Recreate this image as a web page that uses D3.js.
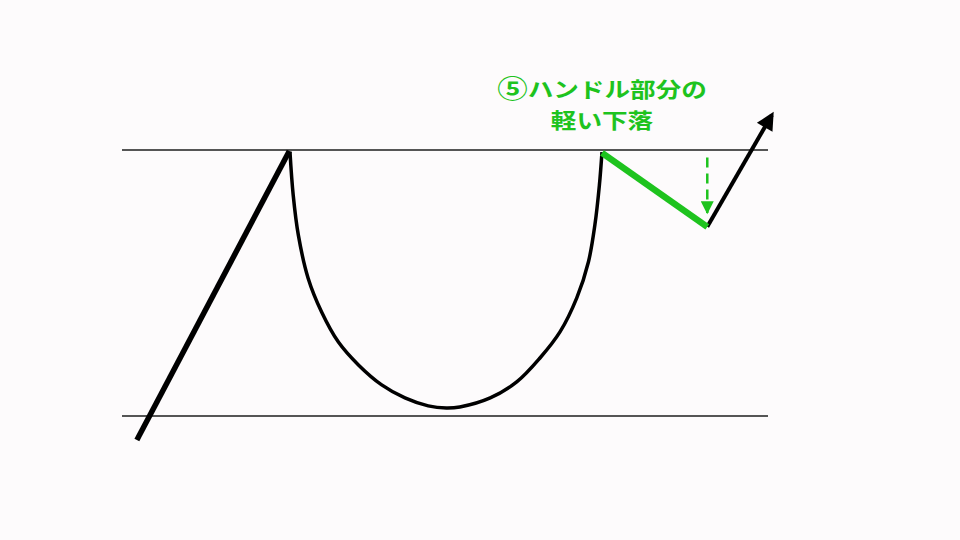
<!DOCTYPE html>
<html>
<head>
<meta charset="utf-8">
<script src="https://cdn.jsdelivr.net/npm/d3@7"></script>
<style>
  html, body { margin: 0; padding: 0; background: #fdfbfc; }
  svg { display: block; }
</style>
</head>
<body>
<div id="chart"></div>
<script>
(function () {
  "use strict";

  // Pattern values in chart units: x 0..100 across the band, y 0 = support, 100 = resistance
  const levels = [100, 0];
  const riseLine = [[2.3, -9.0], [25.9, 99.6]];
  const cupPoints = [
    [26.0, 99.4], [26.5, 83.1], [27.3, 68.0], [28.8, 51.9], [30.9, 39.1],
    [33.5, 27.8], [36.6, 19.2], [40.2, 11.7], [43.8, 6.8], [47.4, 3.8],
    [50.2, 3.0], [52.3, 3.4], [57.0, 6.8], [61.1, 12.8], [64.7, 21.8],
    [67.8, 31.6], [70.4, 44.4], [72.2, 57.9], [73.2, 71.8], [73.9, 86.8],
    [74.3, 99.2]
  ];
  const handleLine = [[74.3, 98.9], [90.6, 71.1]];
  const breakoutLine = [[90.6, 71.1], [100.6, 113.2]];
  const dropArrow = [[90.6, 97.2], [90.6, 76.3]];
  const labelMarker = "⑤";
  const labelLines = ["ハンドル部分の", "軽い下落"];

  const w = 960, h = 540;
  const GREEN = "#1ec31e";

  const x = d3.scaleLinear().domain([0, 100]).range([122, 768]);
  const y = d3.scaleLinear().domain([0, 100]).range([416, 150]);

  const svg = d3.select("#chart").append("svg")
    .attr("width", w).attr("height", h)
    .attr("viewBox", `0 0 ${w} ${h}`);

  svg.append("rect").attr("width", w).attr("height", h).attr("fill", "#fdfbfc");

  const defs = svg.append("defs");
  defs.append("marker")
    .attr("id", "head-black")
    .attr("viewBox", "0 0 10 10")
    .attr("refX", 8).attr("refY", 5)
    .attr("markerUnits", "userSpaceOnUse")
    .attr("markerWidth", 20).attr("markerHeight", 18)
    .attr("orient", "auto")
    .append("path").attr("d", "M0,0 L10,5 L0,10 Z").attr("fill", "#000");
  defs.append("marker")
    .attr("id", "head-green")
    .attr("viewBox", "0 0 10 10")
    .attr("refX", 9).attr("refY", 5)
    .attr("markerUnits", "userSpaceOnUse")
    .attr("markerWidth", 16).attr("markerHeight", 13)
    .attr("orient", "auto")
    .append("path").attr("d", "M0,0 L10,5 L0,10 Z").attr("fill", GREEN);

  const line = d3.line().x((d) => x(d[0])).y((d) => y(d[1]));

  // Resistance / support lines
  svg.selectAll("line.level")
    .data(levels)
    .enter().append("line")
    .attr("class", "level")
    .attr("x1", x(0)).attr("x2", x(100))
    .attr("y1", (d) => y(d)).attr("y2", (d) => y(d))
    .attr("stroke", "#555").attr("stroke-width", 2);

  // Prior uptrend
  svg.append("path").attr("d", line(riseLine))
    .attr("fill", "none").attr("stroke", "#000").attr("stroke-width", 5.5);

  // Cup
  const curved = d3.line().x((d) => x(d[0])).y((d) => y(d[1])).curve(d3.curveCatmullRom);
  svg.append("path").attr("d", curved(cupPoints))
    .attr("fill", "none").attr("stroke", "#000").attr("stroke-width", 3.5);

  // Breakout arrow
  svg.append("path").attr("d", line(breakoutLine))
    .attr("fill", "none").attr("stroke", "#000").attr("stroke-width", 4)
    .attr("marker-end", "url(#head-black)");

  // Handle
  svg.append("path").attr("d", line(handleLine))
    .attr("fill", "none").attr("stroke", GREEN).attr("stroke-width", 6.5)
    .attr("stroke-linecap", "butt");

  // Dashed drop arrow
  svg.append("path").attr("d", line(dropArrow))
    .attr("fill", "none").attr("stroke", GREEN).attr("stroke-width", 2.5)
    .attr("stroke-dasharray", "10,6")
    .attr("marker-end", "url(#head-green)");

  // Label (glyphs are stretched horizontally in the original)
  const label = svg.append("g")
    .attr("transform", "translate(602,0) scale(1.22,1)")
    .attr("fill", GREEN)
    .attr("font-weight", "bold")
    .attr("font-family", "'Noto Sans CJK JP', sans-serif")
    .attr("text-anchor", "middle");
  const t1 = label.append("text").attr("x", 0).attr("y", 97).attr("font-size", "21px");
  t1.append("tspan").attr("font-size", "25px").attr("dy", "1").text(labelMarker);
  t1.append("tspan").attr("dy", "-1").text(labelLines[0]);
  label.append("text").attr("x", 0).attr("y", 128).attr("font-size", "21px").text(labelLines[1]);
})();
</script>
</body>
</html>
